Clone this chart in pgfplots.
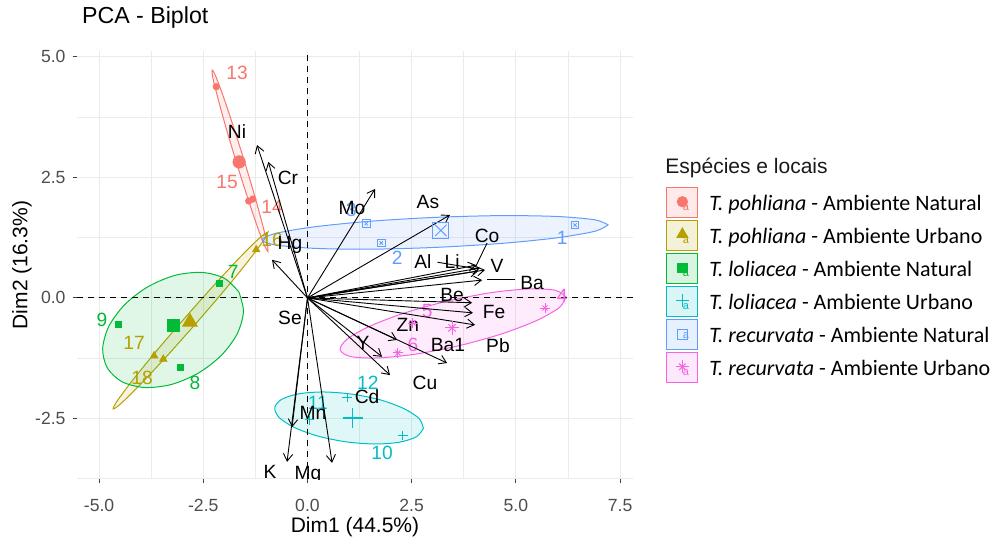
\documentclass[border=0pt]{standalone}
\usepackage{fontspec}
\setmainfont{Liberation Sans}
\newfontfamily\calib{Carlito}
\usepackage{pgfplots}
\pgfplotsset{compat=1.18}
\usetikzlibrary{arrows.meta}
\definecolor{cR}{HTML}{F8766D}
\definecolor{cY}{HTML}{B79F00}
\definecolor{cG}{HTML}{00BA38}
\definecolor{cC}{HTML}{00BFC4}
\definecolor{cB}{HTML}{619CFF}
\definecolor{cP}{HTML}{F564E3}
\definecolor{gridc}{HTML}{EBEBEB}
\definecolor{tickc}{HTML}{4D4D4D}
\tikzset{
  vec/.style={black, line width=0.45pt, -{Straight Barb[length=3.6pt,width=4.6pt]}},
  lab/.style={font=\fontsize{9.6}{10}\selectfont, inner sep=0pt},
  ell/.style={line width=0.5pt, smooth, fill opacity=0.12},
  keya/.style={font=\rmfamily\fontsize{5.5}{6}\selectfont, inner sep=0pt},
}
\begin{document}
\begin{tikzpicture}
\begin{axis}[
  name=ax,
  scale only axis, width=278pt, height=214pt,
  xmin=-5.53, xmax=7.81, ymin=-3.755, ymax=5.12,
  axis line style={draw=none},
  xtick={-5,-2.5,0,2.5,5,7.5},
  xticklabels={-5.0,-2.5,0.0,2.5,5.0,7.5},
  ytick={-2.5,0,2.5,5},
  yticklabels={-2.5,0.0,2.5,5.0},
  minor xtick={-3.75,-1.25,1.25,3.75,6.25},
  minor ytick={-3.75,-1.25,1.25,3.75},
  grid=both,
  major grid style={gridc, line width=0.55pt},
  minor grid style={gridc, line width=0.35pt},
  tick align=outside, tick pos=left,
  major tick length=2.2pt, minor tick length=0pt,
  major tick style={black!75, line width=0.5pt},
  /pgf/number format/assume math mode=true,
  ticklabel style={font=\fontsize{8.8}{10}\selectfont, text=tickc},
  xticklabel style={yshift=-4.6pt},
  xlabel={Dim1 (44.5\%)}, ylabel={Dim2 (16.3\%)},
  xlabel style={at={(axis description cs:0.5,-0.126)}, anchor=base, font=\fontsize{10.5}{12}\selectfont},
  ylabel style={at={(axis description cs:-0.099,0.5)}, anchor=center, font=\fontsize{10.5}{12}\selectfont},
  title={PCA - Biplot},
  title style={at={(axis description cs:0,1)}, anchor=base west, yshift=8pt, xshift=-1pt, font=\fontsize{11.6}{13}\selectfont},
  legend style={at={(axis description cs:1,1)}, anchor=north west, xshift=16.5pt, yshift=-68pt,
    draw=none, fill=none, font=\calib\fontsize{11}{13}\selectfont,
    row sep=1pt, column sep=5.5pt, inner xsep=0pt, inner ysep=0pt,
    nodes={inner sep=0pt, text depth=0pt}},
  legend cell align=left,
]
% ---------- legend images ----------
\addlegendimage{legend image code/.code={%
  \draw[draw=cR, fill=cR!15, line width=0.5pt] (0pt,-7.5pt) rectangle (15.5pt,7.5pt);
  \node[keya, text=cR] at (7.75pt,-2.2pt) {a};
  \draw[cR, only marks, mark=*, mark size=2.6pt] plot coordinates {(7.75pt,0.6pt)};
}}
\addlegendentry{\textit{T. pohliana} - Ambiente Natural}
\addlegendimage{legend image code/.code={%
  \draw[draw=cY, fill=cY!15, line width=0.5pt] (0pt,-7.5pt) rectangle (15.5pt,7.5pt);
  \node[keya, text=cY] at (7.75pt,-2.2pt) {a};
  \draw[cY, only marks, mark=triangle*, mark size=3.2pt] plot coordinates {(7.75pt,0.8pt)};
}}
\addlegendentry{\textit{T. pohliana} - Ambiente Urbano}
\addlegendimage{legend image code/.code={%
  \draw[draw=cG, fill=cG!15, line width=0.5pt] (0pt,-7.5pt) rectangle (15.5pt,7.5pt);
  \node[keya, text=cG] at (7.75pt,-2.2pt) {a};
  \draw[cG, only marks, mark=square*, mark size=2.3pt] plot coordinates {(7.75pt,0.6pt)};
}}
\addlegendentry{\textit{T. loliacea} - Ambiente Natural}
\addlegendimage{legend image code/.code={%
  \draw[draw=cC, fill=cC!15, line width=0.5pt] (0pt,-7.5pt) rectangle (15.5pt,7.5pt);
  \node[keya, text=cC] at (7.75pt,-2.2pt) {a};
  \draw[cC, only marks, mark=+, mark size=3.2pt, mark options={line width=0.6pt}] plot coordinates {(7.75pt,0.8pt)};
}}
\addlegendentry{\textit{T. loliacea} - Ambiente Urbano}
\addlegendimage{legend image code/.code={%
  \draw[draw=cB, fill=cB!15, line width=0.5pt] (0pt,-7.5pt) rectangle (15.5pt,7.5pt);
  \node[keya, text=cB] at (7.75pt,-0.3pt) {a};
  \draw[cB, only marks, mark=square, mark size=2.6pt, mark options={line width=0.6pt}] plot coordinates {(7.75pt,0.3pt)};
}}
\addlegendentry{\textit{T. recurvata} - Ambiente Natural}
\addlegendimage{legend image code/.code={%
  \draw[draw=cP, fill=cP!15, line width=0.5pt] (0pt,-7.5pt) rectangle (15.5pt,7.5pt);
  \node[keya, text=cP] at (7.75pt,-2.2pt) {a};
  \draw[cP, only marks, mark=+, mark size=3.2pt, mark options={line width=0.5pt}] plot coordinates {(7.75pt,0.6pt)};
  \draw[cP, only marks, mark=x, mark size=2.3pt, mark options={line width=0.5pt}] plot coordinates {(7.75pt,0.6pt)};
}}
\addlegendentry{\textit{T. recurvata} - Ambiente Urbano}

% ---------- ellipses ----------
\addplot[ell, draw=cR, fill=cR] coordinates {
(-0.948,0.959) (-1.034,1.091) (-1.209,1.494) (-1.444,2.098) (-1.708,2.817) (-1.958,3.541)
(-2.154,4.156) (-2.272,4.573) (-2.286,4.726) (-2.200,4.593) (-2.025,4.191) (-1.790,3.587)
(-1.526,2.867) (-1.276,2.143) (-1.080,1.527) (-0.962,1.112) (-0.948,0.959)} -- cycle;
\addplot[ell, draw=cY, fill=cY] coordinates {
(-0.945,1.369) (-1.046,1.199) (-1.413,0.774) (-1.991,0.160) (-2.697,-0.550) (-3.417,-1.247)
(-4.043,-1.824) (-4.482,-2.195) (-4.664,-2.303) (-4.563,-2.133) (-4.196,-1.707) (-3.618,-1.095)
(-2.913,-0.386) (-2.193,0.311) (-1.567,0.890) (-1.128,1.261) (-0.945,1.369)} -- cycle;
\addplot[ell, draw=cG, fill=cG] coordinates {
(-1.646,0.124) (-1.536,-0.280) (-1.684,-0.741) (-2.066,-1.191) (-2.625,-1.562) (-3.275,-1.797)
(-3.916,-1.857) (-4.453,-1.737) (-4.803,-1.452) (-4.914,-1.048) (-4.765,-0.587) (-4.383,-0.137)
(-3.824,0.234) (-3.174,0.469) (-2.534,0.529) (-1.996,0.409) (-1.646,0.124)} -- cycle;
\addplot[ell, draw=cC, fill=cC] coordinates {
(2.781,-2.705) (2.615,-2.878) (2.203,-2.992) (1.607,-3.029) (0.919,-2.983) (0.242,-2.863)
(-0.317,-2.685) (-0.681,-2.479) (-0.785,-2.274) (-0.619,-2.102) (-0.206,-1.988) (0.389,-1.950)
(1.077,-1.996) (1.756,-2.116) (2.313,-2.295) (2.678,-2.500) (2.781,-2.705)} -- cycle;
\addplot[ell, draw=cB, fill=cB] coordinates {
(7.212,1.515) (6.903,1.384) (6.008,1.249) (4.667,1.131) (3.078,1.048) (1.485,1.010)
(0.139,1.029) (-0.768,1.098) (-1.089,1.203) (-0.780,1.334) (0.115,1.469) (1.456,1.587)
(3.047,1.670) (4.638,1.707) (5.984,1.689) (6.893,1.620) (7.212,1.515)} -- cycle;
\addplot[ell, draw=cP, fill=cP] coordinates {
(6.202,0.021) (6.044,-0.199) (5.497,-0.469) (4.647,-0.749) (3.620,-0.994) (2.574,-1.168)
(1.667,-1.245) (1.039,-1.216) (0.785,-1.079) (0.943,-0.859) (1.490,-0.589) (2.339,-0.309)
(3.369,-0.064) (4.412,0.110) (5.319,0.187) (5.948,0.158) (6.202,0.021)} -- cycle;

% ---------- reference lines ----------
\addplot[black, line width=0.5pt, dash pattern=on 3pt off 2.5pt] coordinates {(0,-3.755) (0,5.12)};
\addplot[black, line width=0.5pt, dash pattern=on 3pt off 2.5pt] coordinates {(-5.53,0) (7.81,0)};

% ---------- individuals ----------
\addplot[cR, only marks, mark=*, mark size=1.6pt] coordinates {(-2.19,4.38) (-1.31,2.05) (-1.41,2.01)};
\addplot[cR, only marks, mark=*, mark size=3.1pt] coordinates {(-1.64,2.82)};
\addplot[cY, only marks, mark=triangle*, mark size=2.1pt] coordinates {(-1.23,1.00) (-3.68,-1.20) (-3.46,-1.27)};
\addplot[cY, only marks, mark=triangle*, mark size=4.2pt] coordinates {(-2.82,-0.50)};
\addplot[cG, only marks, mark=square*, mark size=1.5pt] coordinates {(-4.54,-0.54) (-2.12,0.31) (-3.06,-1.45)};
\addplot[cG, only marks, mark=square*, mark size=3.0pt] coordinates {(-3.22,-0.58)};
\addplot[cC, only marks, mark=+, mark size=2.3pt, mark options={line width=0.55pt}] coordinates {(0.95,-2.07) (0.04,-2.53) (2.29,-2.86)};
\addplot[cC, only marks, mark=+, mark size=5pt, mark options={line width=0.55pt}] coordinates {(1.09,-2.49)};
\addplot[cB, only marks, mark=square, mark size=1.9pt, mark options={line width=0.5pt}] coordinates {(1.41,1.54) (1.77,1.14) (6.42,1.51)};
\addplot[cB, only marks, mark=x, mark size=1.2pt, mark options={line width=0.4pt}] coordinates {(1.41,1.54) (1.77,1.14) (6.42,1.51)};
\addplot[cB, only marks, mark=square, mark size=4pt, mark options={line width=0.5pt}] coordinates {(3.20,1.40)};
\addplot[cB, only marks, mark=x, mark size=4pt, mark options={line width=0.5pt}] coordinates {(3.20,1.40)};
\addplot[cP, only marks, mark=+, mark size=2.5pt, mark options={line width=0.45pt}] coordinates {(5.70,-0.21) (2.53,-0.52) (2.17,-1.14)};
\addplot[cP, only marks, mark=x, mark size=1.8pt, mark options={line width=0.45pt}] coordinates {(5.70,-0.21) (2.53,-0.52) (2.17,-1.14)};
\addplot[cP, only marks, mark=+, mark size=3.6pt, mark options={line width=0.5pt}] coordinates {(3.47,-0.62)};
\addplot[cP, only marks, mark=x, mark size=2.6pt, mark options={line width=0.5pt}] coordinates {(3.47,-0.62)};

% ---------- individual labels ----------
\node[lab, text=cR] at (axis cs:-1.69,4.67) {13};
\node[lab, text=cR] at (axis cs:-1.93,2.41) {15};
\node[lab, text=cR] at (axis cs:-0.85,1.89) {14};
\node[lab, text=cY] at (axis cs:-0.85,1.20) {16};
\node[lab, text=cY] at (axis cs:-4.16,-0.93) {17};
\node[lab, text=cY] at (axis cs:-3.97,-1.66) {18};
\node[lab, text=cG] at (axis cs:-4.93,-0.46) {9};
\node[lab, text=cG] at (axis cs:-1.78,0.54) {7};
\node[lab, text=cG] at (axis cs:-2.70,-1.76) {8};
\node[lab, text=cC] at (axis cs:1.45,-1.76) {12};
\node[lab, text=cC] at (axis cs:0.25,-2.18) {11};
\node[lab, text=cC] at (axis cs:1.79,-3.22) {10};
\node[lab, text=cB] at (axis cs:1.05,1.83) {3};
\node[lab, text=cB] at (axis cs:2.15,0.83) {2};
\node[lab, text=cB] at (axis cs:6.11,1.24) {1};
\node[lab, text=cP] at (axis cs:6.11,0.04) {4};
\node[lab, text=cP] at (axis cs:2.87,-0.27) {5};
\node[lab, text=cP] at (axis cs:2.53,-0.98) {6};

% ---------- variable arrows ----------
\addplot[vec] coordinates {(0,0) (-1.21,3.17)};   % Ni
\addplot[vec] coordinates {(0,0) (-0.94,2.82)};   % Cr
\addplot[vec] coordinates {(0,0) (-0.85,0.79)};   % Hg
\addplot[vec] coordinates {(0,0) (1.62,2.26)};    % Mo
\addplot[vec] coordinates {(0,0) (3.42,1.72)};    % As
\addplot[vec] coordinates {(0,0) (4.05,0.68)};    % Co
\addplot[vec] coordinates {(0,0) (4.10,0.56)};    % Al
\addplot[vec] coordinates {(0,0) (4.14,0.62)};    % Li
\addplot[vec] coordinates {(0,0) (4.26,0.58)};    % V
\addplot[vec] coordinates {(0,0) (4.19,0.37)};    % Ba
\addplot[vec] coordinates {(0,0) (3.95,-0.10)};   % Be
\addplot[vec] coordinates {(0,0) (3.97,-0.31)};   % Fe
\addplot[vec] coordinates {(0,0) (4.02,-0.56)};   % Pb
\addplot[vec] coordinates {(0,0) (2.15,-0.87)};   % Zn
\addplot[vec] coordinates {(0,0) (3.35,-1.35)};   % Ba1
\addplot[vec] coordinates {(0,0) (1.79,-1.22)};   % Y
\addplot[vec] coordinates {(0,0) (1.98,-1.60)};   % Cu
\addplot[vec] coordinates {(0,0) (-0.37,-2.68)};  % Mn
\addplot[vec] coordinates {(0,0) (-0.49,-3.40)};  % K
\addplot[vec] coordinates {(0,0) (0.59,-3.42)};   % Mg
% label connector segments
\addplot[black, line width=0.45pt] coordinates {(4.31,1.14) (4.03,0.64)};
\addplot[black, line width=0.45pt] coordinates {(4.31,0.39) (4.98,0.39)};
\addplot[black, line width=0.45pt] coordinates {(3.12,0.74) (4.10,0.60)};

% ---------- variable labels ----------
\node[lab] at (axis cs:-1.69,3.44) {Ni};
\node[lab] at (axis cs:-0.47,2.49) {Cr};
\node[lab] at (axis cs:-0.42,1.10) {Hg};
\node[lab] at (axis cs:1.07,1.87) {Mo};
\node[lab] at (axis cs:2.89,1.99) {As};
\node[lab] at (axis cs:4.31,1.29) {Co};
\node[lab] at (axis cs:2.77,0.75) {Al};
\node[lab] at (axis cs:3.47,0.75) {Li};
\node[lab] at (axis cs:4.55,0.66) {V};
\node[lab] at (axis cs:5.39,0.31) {Ba};
\node[lab] at (axis cs:3.47,0.06) {Be};
\node[lab] at (axis cs:4.48,-0.29) {Fe};
\node[lab] at (axis cs:2.41,-0.56) {Zn};
\node[lab] at (axis cs:3.37,-0.98) {Ba1};
\node[lab] at (axis cs:4.57,-0.98) {Pb};
\node[lab] at (axis cs:1.33,-0.93) {Y};
\node[lab] at (axis cs:2.82,-1.76) {Cu};
\node[lab] at (axis cs:1.43,-2.05) {Cd};
\node[lab] at (axis cs:-0.42,-0.41) {Se};
\node[lab] at (axis cs:0.13,-2.39) {Mn};
\node[lab] at (axis cs:-0.90,-3.61) {K};
\node[lab] at (axis cs:0.01,-3.67) {Mg};
\end{axis}
\node[anchor=base west, inner sep=0pt, font=\fontsize{10.5}{12}\selectfont, text=black!90] at ([xshift=16pt,yshift=-61pt]ax.north east) {Espécies e locais};
\pgfresetboundingbox
\path ([shift={(-38.5pt,-29.5pt)}]ax.south west) rectangle ([shift={(459pt,239.5pt)}]ax.south west);
\end{tikzpicture}
\end{document}
